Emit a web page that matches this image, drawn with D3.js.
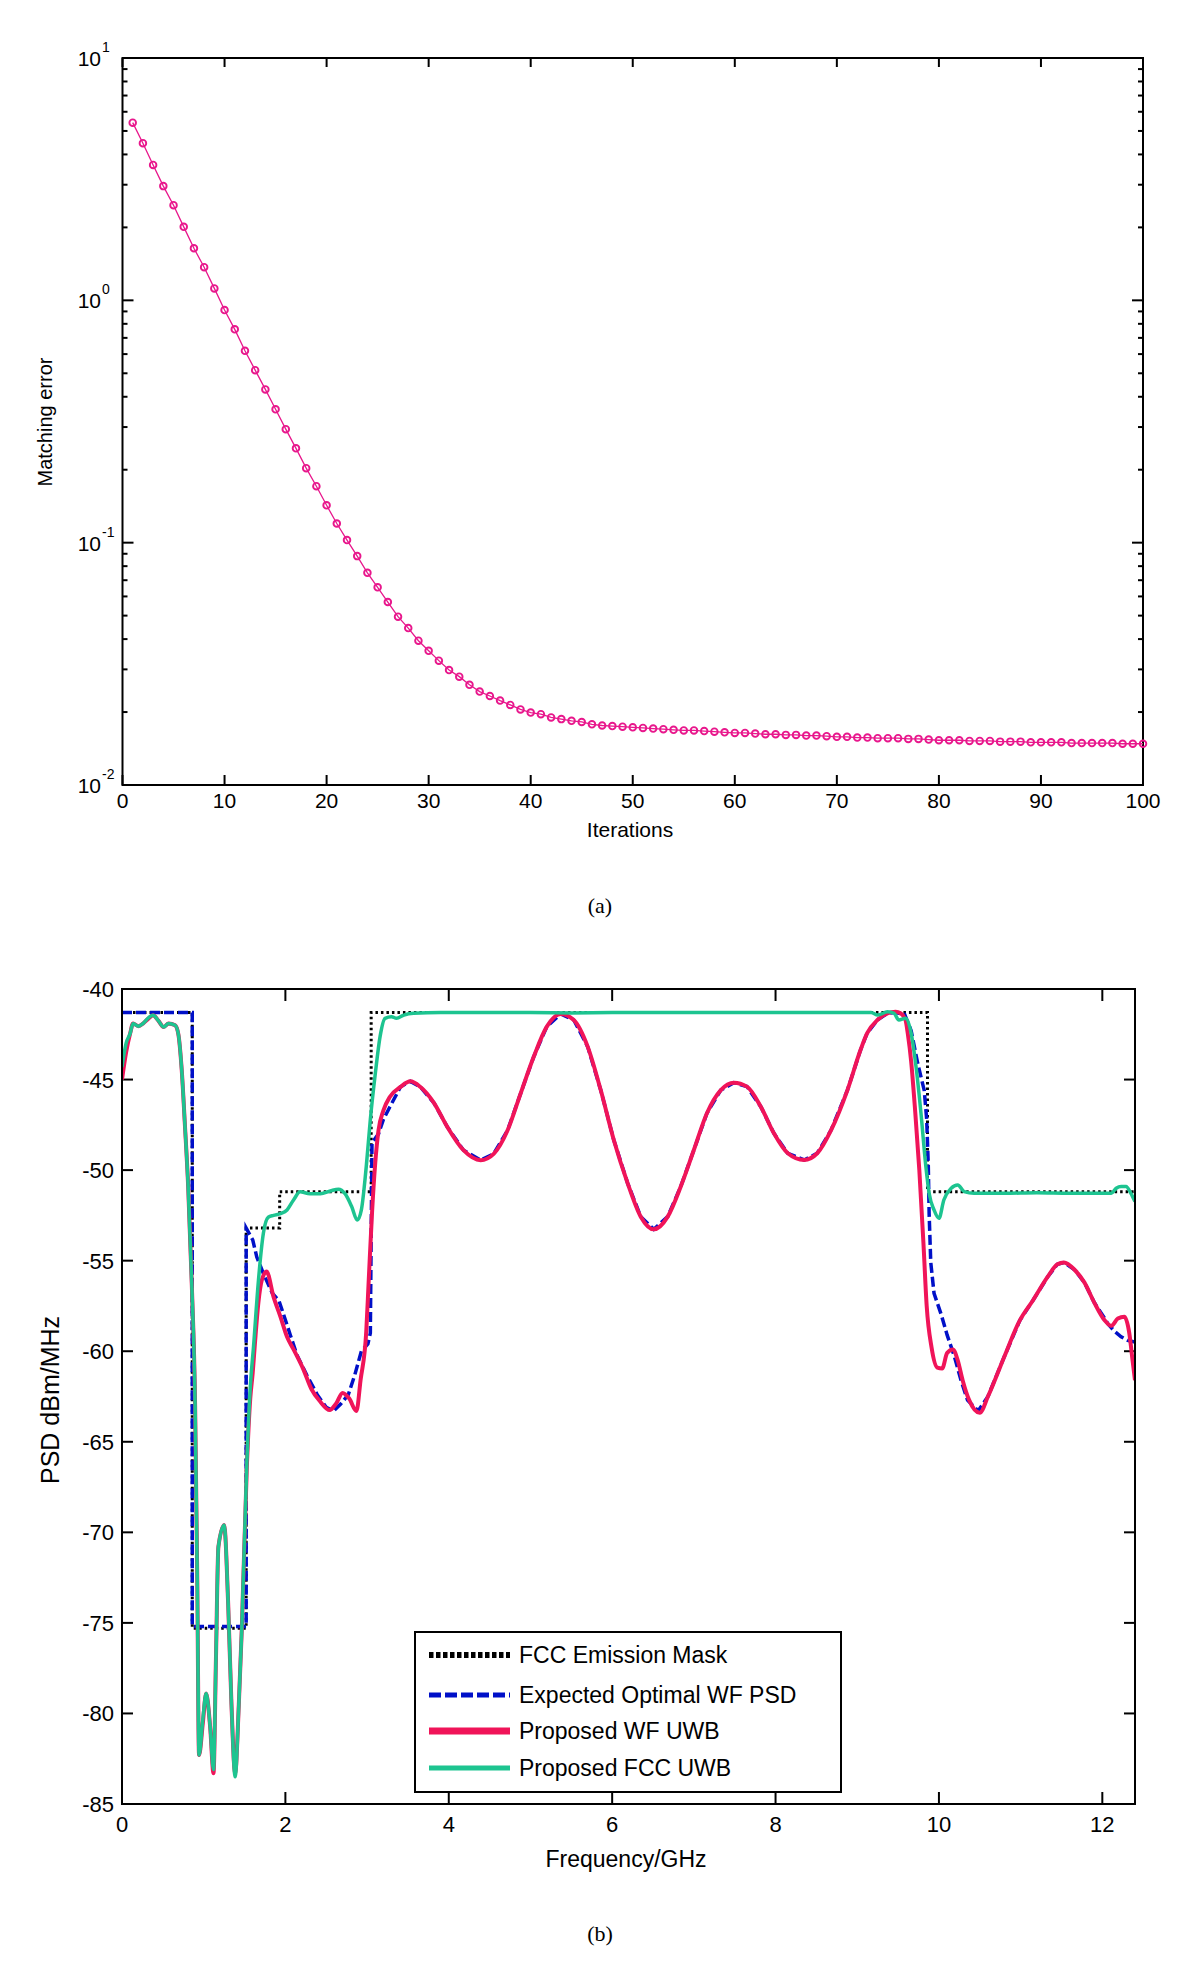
<!DOCTYPE html>
<html>
<head>
<meta charset="utf-8">
<script src="https://cdn.jsdelivr.net/npm/d3@7"></script>
<style>
  body { margin: 0; background: #fff; }
  text { font-family: "Liberation Sans", Arial, Helvetica, sans-serif; fill: #000; }
  .caption { font-family: "Liberation Serif", "Times New Roman", serif; }
</style>
</head>
<body>
<svg id="fig" width="1200" height="1984"></svg>
<script>
// ---- (a) matching error vs iterations ----
var iterErr = [
  5.41, 4.45, 3.62, 2.96, 2.47, 2.01, 1.64, 1.37, 1.12, 0.912,
  0.759, 0.619, 0.515, 0.429, 0.355, 0.294, 0.245, 0.203, 0.171, 0.1426,
  0.120, 0.1025, 0.088, 0.0751, 0.0654, 0.0569, 0.0495, 0.0444, 0.0394, 0.0358,
  0.0326, 0.0298, 0.0280, 0.0259, 0.0243, 0.0233, 0.0223, 0.0214, 0.0205, 0.0199,
  0.0196, 0.0190, 0.0187, 0.0184, 0.0182, 0.0178, 0.0176, 0.0175, 0.0174, 0.0173,
  0.0172, 0.0171, 0.0170, 0.0169, 0.0168, 0.0168, 0.0167, 0.0166, 0.0165, 0.0164,
  0.0164, 0.0163, 0.0162, 0.0162, 0.0161, 0.0161, 0.0160, 0.0160, 0.0159, 0.0158,
  0.0158, 0.0157, 0.0157, 0.0156, 0.0156, 0.0156, 0.0155, 0.0155, 0.0154, 0.0153,
  0.0153, 0.0153, 0.0152, 0.0152, 0.0152, 0.0151, 0.0151, 0.0151, 0.0150, 0.0150,
  0.0150, 0.0150, 0.0149, 0.0149, 0.0149, 0.0149, 0.0149, 0.0148, 0.0148, 0.0148
];
var iterTicks = [0, 10, 20, 30, 40, 50, 60, 70, 80, 90, 100];
var decadeExp = [-2, -1, 0, 1];

// ---- (b) PSD vs frequency ----
var maskFreq = [0, 0.86, 0.86, 1.52, 1.52, 1.93, 1.93, 3.05, 3.05, 9.86, 9.86, 12.4];
var maskPsd  = [-41.3, -41.3, -75.3, -75.3, -53.2, -53.2, -51.2, -51.2, -41.3, -41.3, -51.2, -51.2];

var optFreq = [0, 0.86, 0.86, 1.52, 1.52, 1.6, 1.65, 1.73, 1.84, 1.92, 1.98, 2.06, 2.14, 2.26, 2.39, 2.5,
  2.59, 2.68, 2.77, 2.85, 2.93, 3.01, 3.04, 3.06, 3.14, 3.2, 3.28, 3.41, 3.53, 3.65, 3.82, 3.98, 4.18,
  4.39, 4.55, 4.72, 4.88, 5.04, 5.2, 5.37, 5.53, 5.7, 5.86, 6.02, 6.19, 6.35, 6.51, 6.68, 6.84, 7.0,
  7.16, 7.33, 7.49, 7.65, 7.82, 7.98, 8.15, 8.35, 8.51, 8.68, 8.88, 9.04, 9.12, 9.25, 9.37, 9.47, 9.58,
  9.66, 9.74, 9.82, 9.85, 9.87, 9.88, 9.9, 9.94, 10.03, 10.1, 10.19, 10.27, 10.35, 10.48, 10.6, 10.8,
  10.99, 11.15, 11.33, 11.45, 11.53, 11.66, 11.78, 11.9, 12.03, 12.07, 12.15, 12.23, 12.31, 12.4];
var optPsd = [-41.3, -41.3, -75.2, -75.2, -53.2, -53.85, -54.8, -55.7, -56.8, -57.2, -58.0, -59.1, -60.2,
  -61.3, -62.4, -63.1, -63.3, -62.9, -62.4, -61.3, -60.0, -59.6, -59.0, -48.5, -48.0, -47.2, -46.5, -45.4,
  -45.1, -45.4, -46.3, -47.6, -48.9, -49.45, -49.1, -47.8, -45.76, -43.74, -42.08, -41.38, -41.71, -43.18,
  -45.58, -48.34, -50.73, -52.57, -53.27, -52.57, -50.9, -48.89, -46.86, -45.58, -45.17, -45.39, -46.5,
  -47.97, -49.07, -49.44, -49.07, -47.79, -45.58, -43.37, -42.45, -41.7, -41.34, -41.3, -41.4, -42.3,
  -44.1, -45.6, -47.2, -49.8, -52.4, -55.1, -56.8, -58.0, -59.1, -60.3, -61.6, -62.7, -63.3, -62.5,
  -60.3, -58.3, -57.2, -55.9, -55.2, -55.1, -55.5, -56.2, -57.3, -58.2, -58.5, -58.9, -59.2, -59.4, -59.5];

var wfFreq = [0, 0.05, 0.1, 0.135, 0.2, 0.26, 0.32, 0.38, 0.445, 0.51, 0.57, 0.65, 0.69, 0.73, 0.77,
  0.81, 0.855, 0.895, 0.92, 0.943, 0.99, 1.03, 1.08, 1.12, 1.15, 1.18, 1.25, 1.3, 1.34, 1.385, 1.43,
  1.466, 1.528, 1.57, 1.6, 1.63, 1.67, 1.71, 1.77, 1.855, 1.94, 2.02, 2.1, 2.22, 2.32, 2.43, 2.54, 2.62,
  2.7, 2.78, 2.87, 2.92, 2.99, 3.02, 3.06, 3.1, 3.14, 3.2, 3.28, 3.41, 3.53, 3.65, 3.82, 3.98, 4.18,
  4.39, 4.55, 4.72, 4.88, 5.04, 5.2, 5.37, 5.53, 5.7, 5.86, 6.02, 6.19, 6.35, 6.51, 6.68, 6.84, 7.0,
  7.16, 7.33, 7.49, 7.65, 7.82, 7.98, 8.15, 8.35, 8.51, 8.68, 8.88, 9.04, 9.12, 9.25, 9.37, 9.47, 9.53,
  9.59, 9.62, 9.66, 9.71, 9.76, 9.81, 9.85, 9.91, 9.98, 10.04, 10.1, 10.17, 10.23, 10.29, 10.37, 10.5,
  10.6, 10.8, 10.99, 11.15, 11.33, 11.45, 11.53, 11.66, 11.78, 11.9, 12.03, 12.11, 12.19, 12.27, 12.33,
  12.37, 12.4];
var wfPsd = [-45.0, -43.5, -42.45, -41.9, -42.05, -41.9, -41.65, -41.45, -41.75, -42.1, -41.9, -42.0,
  -42.5, -44.4, -47.5, -50.9, -56.4, -63.0, -72.0, -82.3, -80.5, -78.9, -80.8, -83.3, -77.0, -70.8, -69.6,
  -74.0, -79.5, -83.3, -79.5, -75.4, -66.4, -62.6, -61.2, -59.4, -57.3, -56.1, -55.6, -57.0, -58.1, -59.2,
  -59.9, -61.0, -62.1, -62.8, -63.25, -62.9, -62.3, -62.6, -63.3, -61.6, -58.9, -56.1, -52.4, -49.6,
  -47.8, -46.7, -45.95, -45.4, -45.1, -45.4, -46.3, -47.6, -48.9, -49.45, -49.1, -47.8, -45.76, -43.74,
  -42.08, -41.38, -41.71, -43.18, -45.58, -48.34, -50.73, -52.57, -53.27, -52.57, -50.9, -48.89, -46.86,
  -45.58, -45.17, -45.39, -46.5, -47.97, -49.07, -49.44, -49.07, -47.79, -45.58, -43.37, -42.45, -41.7,
  -41.34, -41.26, -41.34, -41.7, -42.5, -44.0, -46.8, -50.0, -54.0, -57.5, -59.8, -60.9, -60.95, -60.1,
  -59.9, -60.5, -61.6, -62.7, -63.4, -62.5, -60.3, -58.3, -57.2, -55.9, -55.2, -55.1, -55.5, -56.2,
  -57.3, -58.3, -58.6, -58.2, -58.1, -59.0, -60.5, -61.6];

var fccFreq = [0, 0.05, 0.1, 0.135, 0.2, 0.26, 0.32, 0.38, 0.445, 0.51, 0.57, 0.65, 0.69, 0.73, 0.77,
  0.81, 0.855, 0.895, 0.92, 0.943, 0.99, 1.03, 1.08, 1.12, 1.15, 1.18, 1.25, 1.3, 1.34, 1.385, 1.43,
  1.466, 1.528, 1.57, 1.61, 1.67, 1.73, 1.79, 1.855, 1.94, 2.02, 2.1, 2.18, 2.3, 2.43, 2.55, 2.65, 2.73,
  2.81, 2.88, 2.93, 2.99, 3.04, 3.1, 3.16, 3.22, 3.3, 3.36, 3.45, 3.57, 3.9, 4.5, 5.0, 5.5, 6.0, 6.5,
  7.0, 7.5, 8.0, 8.5, 9.17, 9.25, 9.37, 9.45, 9.51, 9.59, 9.66, 9.72, 9.78, 9.84, 9.88, 9.94, 10.0,
  10.06, 10.15, 10.23, 10.31, 10.43, 10.8, 11.2, 11.6, 12.0, 12.11, 12.17, 12.23, 12.29, 12.35, 12.4];
var fccPsd = [-44.3, -43.0, -42.45, -41.9, -42.05, -41.9, -41.6, -41.45, -41.75, -42.1, -41.9, -42.0,
  -42.5, -44.4, -47.5, -50.9, -56.4, -63.0, -72.0, -82.3, -80.3, -78.9, -80.8, -83.1, -77.0, -70.8, -69.6,
  -74.0, -79.5, -83.5, -79.5, -75.4, -66.2, -62.0, -59.75, -56.1, -53.5, -52.6, -52.5, -52.4, -52.2,
  -51.65, -51.2, -51.3, -51.3, -51.15, -51.05, -51.3, -52.0, -52.76, -52.2, -49.8, -47.2, -44.7, -42.6,
  -41.62, -41.53, -41.62, -41.44, -41.34, -41.3, -41.3, -41.3, -41.32, -41.3, -41.3, -41.3, -41.3, -41.3,
  -41.3, -41.3, -41.44, -41.26, -41.34, -41.71, -41.62, -42.45, -44.3, -46.85, -49.81, -51.28, -52.2,
  -52.66, -51.65, -51.0, -50.82, -51.19, -51.28, -51.28, -51.25, -51.28, -51.28, -51.28, -51.0, -50.9,
  -50.9, -51.28, -51.74];

var freqTicks = [0, 2, 4, 6, 8, 10, 12];
var psdTicks = [-85, -80, -75, -70, -65, -60, -55, -50, -45, -40];
var legendNames = ["FCC Emission Mask", "Expected Optimal WF PSD", "Proposed WF UWB", "Proposed FCC UWB"];

var svg = d3.select("#fig");

function drawFrame(g, x0, y0, x1, y1) {
  g.append("rect")
    .attr("x", x0).attr("y", y0)
    .attr("width", x1 - x0).attr("height", y1 - y0)
    .attr("fill", "none")
    .attr("stroke", "#000")
    .attr("stroke-width", 2);
}

function tickLine(g, x1, y1, x2, y2) {
  g.append("line")
    .attr("x1", x1).attr("y1", y1).attr("x2", x2).attr("y2", y2)
    .attr("stroke", "#000").attr("stroke-width", 2);
}

// ================= chart (a) =================
function drawIterations() {
  var L = 122.5, R = 1143, T = 58, B = 785;
  var x = d3.scaleLinear().domain([0, 100]).range([L, R]);
  var y = d3.scaleLog().domain([0.01, 10]).range([B, T]);
  var g = svg.append("g").attr("class", "chart-a");

  // x ticks, bottom and top, pointing in
  iterTicks.forEach(function(t) {
    tickLine(g, x(t), B, x(t), B - 10);
    tickLine(g, x(t), T, x(t), T + 9);
    g.append("text")
      .attr("x", x(t)).attr("y", B + 23)
      .attr("text-anchor", "middle")
      .style("font-size", "21px")
      .text(t);
  });

  // log ticks on both sides
  y.ticks().forEach(function(v) {
    var major = Math.abs(Math.log10(v) - Math.round(Math.log10(v))) < 1e-9;
    var len = major ? 11 : 5;
    tickLine(g, L, y(v), L + len, y(v));
    tickLine(g, R, y(v), R - len, y(v));
  });

  decadeExp.forEach(function(e) {
    var yy = y(Math.pow(10, e));
    g.append("text")
      .attr("x", 101).attr("y", yy + 8)
      .attr("text-anchor", "end")
      .style("font-size", "21px")
      .text("10");
    g.append("text")
      .attr("x", 102).attr("y", yy - 6)
      .style("font-size", "14px")
      .text(e);
  });

  drawFrame(g, L, T, R, B);

  var pts = iterErr.map(function(v, i) { return [i + 1, v]; });
  var line = d3.line().x(function(d) { return x(d[0]); }).y(function(d) { return y(d[1]); });

  g.append("path")
    .attr("d", line(pts))
    .attr("fill", "none")
    .attr("stroke", "#e8178c")
    .attr("stroke-width", 1.3);

  g.selectAll(".mk")
    .data(pts)
    .enter().append("circle")
    .attr("class", "mk")
    .attr("cx", function(d) { return x(d[0]); })
    .attr("cy", function(d) { return y(d[1]); })
    .attr("r", 3.3)
    .attr("fill", "none")
    .attr("stroke", "#e8178c")
    .attr("stroke-width", 1.9);

  g.append("text")
    .attr("x", 630).attr("y", 837)
    .attr("text-anchor", "middle")
    .style("font-size", "21px")
    .text("Iterations");

  g.append("text")
    .attr("transform", "translate(52,422) rotate(-90)")
    .attr("text-anchor", "middle")
    .style("font-size", "20px")
    .text("Matching error");

  svg.append("text")
    .attr("class", "caption")
    .attr("x", 600).attr("y", 913)
    .attr("text-anchor", "middle")
    .style("font-size", "22px")
    .text("(a)");
}

// ================= chart (b) =================
function drawPsd() {
  var L = 122, R = 1135, T = 989, B = 1804;
  var x = d3.scaleLinear().domain([0, 12.4]).range([L, R]);
  var y = d3.scaleLinear().domain([-85, -40]).range([B, T]);
  var g = svg.append("g").attr("class", "chart-b");

  g.append("clipPath").attr("id", "clipB")
    .append("rect").attr("x", L).attr("y", T).attr("width", R - L).attr("height", B - T);

  freqTicks.forEach(function(t) {
    tickLine(g, x(t), B, x(t), B - 12);
    tickLine(g, x(t), T, x(t), T + 12);
    g.append("text")
      .attr("x", x(t)).attr("y", B + 28)
      .attr("text-anchor", "middle")
      .style("font-size", "22px")
      .text(t);
  });

  psdTicks.forEach(function(t) {
    tickLine(g, L, y(t), L + 11, y(t));
    tickLine(g, R, y(t), R - 11, y(t));
    g.append("text")
      .attr("x", 114).attr("y", y(t) + 8)
      .attr("text-anchor", "end")
      .style("font-size", "22px")
      .text(t);
  });

  var plot = g.append("g").attr("clip-path", "url(#clipB)");
  var lin = d3.line().x(function(d) { return x(d[0]); }).y(function(d) { return y(d[1]); });
  var smooth = d3.line().curve(d3.curveMonotoneX)
    .x(function(d) { return x(d[0]); }).y(function(d) { return y(d[1]); });

  plot.append("path")
    .attr("d", lin(d3.zip(maskFreq, maskPsd)))
    .attr("fill", "none").attr("stroke", "#000")
    .attr("stroke-width", 3).attr("stroke-dasharray", "2.5,3");

  plot.append("path")
    .attr("d", lin(d3.zip(optFreq, optPsd)))
    .attr("fill", "none").attr("stroke", "#0010c8")
    .attr("stroke-width", 3.5).attr("stroke-dasharray", "10,4");

  plot.append("path")
    .attr("d", smooth(d3.zip(wfFreq, wfPsd)))
    .attr("fill", "none").attr("stroke", "#f01459")
    .attr("stroke-width", 4).attr("stroke-linejoin", "round");

  plot.append("path")
    .attr("d", smooth(d3.zip(fccFreq, fccPsd)))
    .attr("fill", "none").attr("stroke", "#1dc490")
    .attr("stroke-width", 3.5).attr("stroke-linejoin", "round");

  drawFrame(g, L, T, R, B);

  // legend
  var lg = g.append("g").attr("class", "legend");
  lg.append("rect")
    .attr("x", 415).attr("y", 1632).attr("width", 426).attr("height", 160)
    .attr("fill", "#fff").attr("stroke", "#000").attr("stroke-width", 2);
  var rowY = [1655, 1695, 1731, 1768];
  var sample = [
    { stroke: "#000", w: 6, dash: "4.5,2.5" },
    { stroke: "#0010c8", w: 5, dash: "12,4" },
    { stroke: "#f01459", w: 7, dash: null },
    { stroke: "#1dc490", w: 5, dash: null }
  ];
  legendNames.forEach(function(name, i) {
    lg.append("line")
      .attr("x1", 429).attr("x2", 510)
      .attr("y1", rowY[i]).attr("y2", rowY[i])
      .attr("stroke", sample[i].stroke)
      .attr("stroke-width", sample[i].w)
      .attr("stroke-dasharray", sample[i].dash);
    lg.append("text")
      .attr("x", 519).attr("y", rowY[i] + 8)
      .style("font-size", "23px")
      .text(name);
  });

  g.append("text")
    .attr("x", 626).attr("y", 1867)
    .attr("text-anchor", "middle")
    .style("font-size", "23px")
    .text("Frequency/GHz");

  g.append("text")
    .attr("transform", "translate(59,1400) rotate(-90)")
    .attr("text-anchor", "middle")
    .style("font-size", "25px")
    .text("PSD dBm/MHz");

  svg.append("text")
    .attr("class", "caption")
    .attr("x", 600).attr("y", 1941)
    .attr("text-anchor", "middle")
    .style("font-size", "22px")
    .text("(b)");
}

drawIterations();
drawPsd();
</script>
</body>
</html>
